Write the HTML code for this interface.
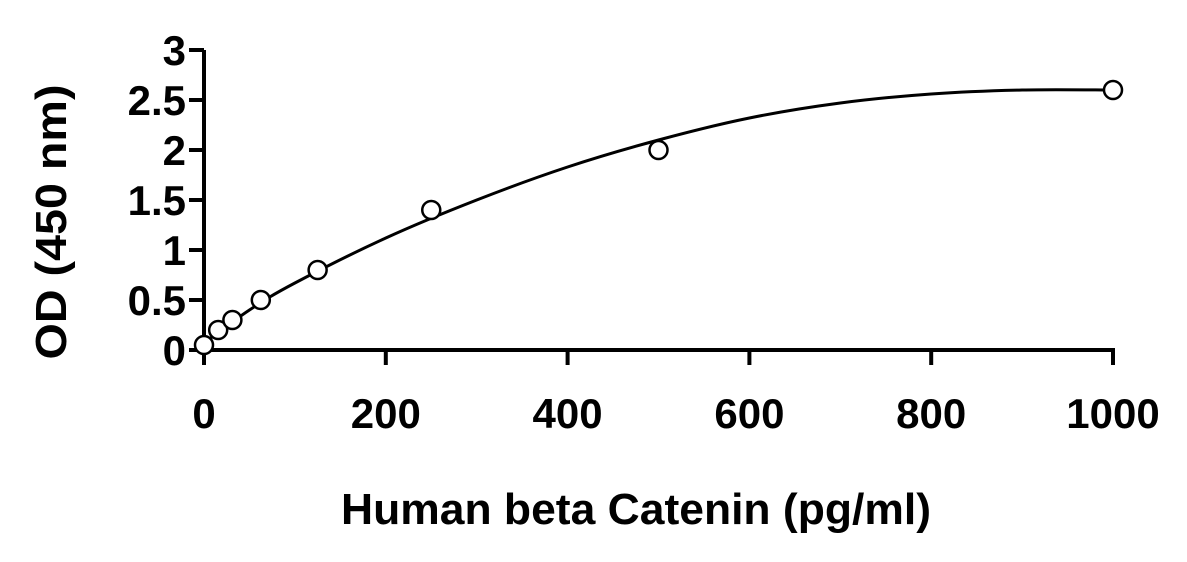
<!DOCTYPE html>
<html><head><meta charset="utf-8"><style>
html,body{margin:0;padding:0;background:#fff;}
svg{display:block;font-family:"Liberation Sans",sans-serif;font-weight:bold;}
</style></head><body>
<svg id="chart" width="1187" height="562" viewBox="0 0 1187 562">
<g id="axes"></g><g id="curve"></g><g id="points"></g>
<text x="636" y="524" text-anchor="middle" font-size="44" textLength="590" lengthAdjust="spacingAndGlyphs">Human beta Catenin (pg/ml)</text>
<text transform="translate(66,222) rotate(-90)" text-anchor="middle" font-size="44" textLength="275" lengthAdjust="spacingAndGlyphs">OD (450 nm)</text>
</svg>
<script>
const xTicks=[0,200,400,600,800,1000];
const yTicks=[0,0.5,1,1.5,2,2.5,3];
const yTickLabels=["0","0.5","1","1.5","2","2.5","3"];
const concentrations=[0,15.6,31.25,62.5,125,250,500,1000];
const odValues=[0.05,0.2,0.3,0.5,0.8,1.4,2.0,2.6];
const curveX=[0,50,100,200,300,400,500,600,700,800,900,1000];
const curveY=[0.07,0.4,0.67,1.12,1.5,1.83,2.1,2.32,2.47,2.56,2.6,2.6];
const NS="http://www.w3.org/2000/svg";
const X=v=>204+v*0.909, Y=v=>350-v*100;
function mk(t,a,p){const e=document.createElementNS(NS,t);for(const k in a)e.setAttribute(k,a[k]);p.appendChild(e);return e;}
const ax=document.getElementById('axes');
let l=mk('line',{x1:204,y1:Y(3),x2:204,y2:352,stroke:'#000','stroke-width':4},ax);


l=mk('line',{x1:202,y1:350,x2:X(1000)+2,y2:350,stroke:'#000','stroke-width':4},ax);


yTicks.forEach((v,i)=>{
 const t=mk('line',{x1:189,y1:Y(v),x2:204,y2:Y(v),stroke:'#000','stroke-width':4},ax);
 
 
 const tx=mk('text',{x:186,y:Y(v)+15,'text-anchor':'end','font-size':42},ax);
 tx.textContent=yTickLabels[i];
 
 
});
xTicks.forEach(v=>{
 const t=mk('line',{x1:X(v),y1:350,x2:X(v),y2:365,stroke:'#000','stroke-width':4},ax);
 
 
 const tx=mk('text',{x:X(v),y:428,'text-anchor':'middle','font-size':42},ax);
 tx.textContent=String(v);
 
 
});
const P=curveX.map((x,i)=>[X(x),Y(curveY[i])]);
let d='M'+P[0][0]+','+P[0][1];
for(let i=0;i<P.length-1;i++){
 const p0=P[Math.max(i-1,0)],p1=P[i],p2=P[i+1],p3=P[Math.min(i+2,P.length-1)];
 d+=' C'+(p1[0]+(p2[0]-p0[0])/6)+','+(p1[1]+(p2[1]-p0[1])/6)+' '+(p2[0]-(p3[0]-p1[0])/6)+','+(p2[1]-(p3[1]-p1[1])/6)+' '+p2[0]+','+p2[1];
}
const c=mk('path',{d:d,fill:'none',stroke:'#000','stroke-width':3},document.getElementById('curve'));


const pg=document.getElementById('points');
concentrations.forEach((x,i)=>{
 const ci=mk('circle',{cx:X(x),cy:Y(odValues[i]),r:9,fill:'#fff',stroke:'#000','stroke-width':2.5},pg);
 
 
});
</script>
</body></html>
